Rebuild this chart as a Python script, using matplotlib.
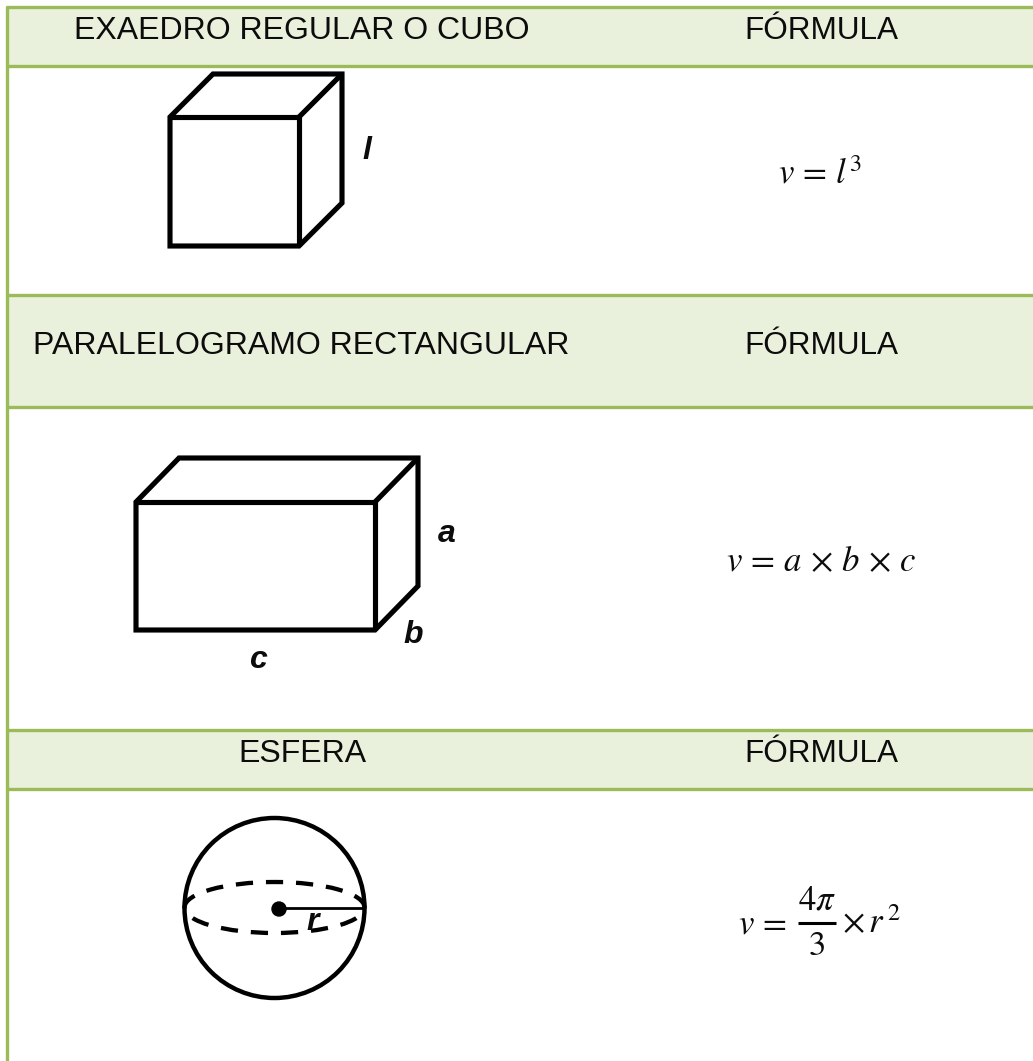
import matplotlib
matplotlib.use("Agg")
from matplotlib import pyplot as plt
from matplotlib.patches import Circle, Ellipse, Polygon, Rectangle

plt.rcParams['font.family'] = ['Liberation Sans', 'DejaVu Sans']
plt.rcParams['mathtext.fontset'] = 'stix'

WIDTH, HEIGHT = 1033, 1061
GREEN = "#9bbb59"
PALE = "#e9f0dc"
INK = "#0c0c0c"

# Header bands (top, bottom) and the lines of the table
header_bands = [(7, 66), (295, 407), (730, 789)]
row_lines = [7, 66, 295, 407, 730, 789]

headers = ["EXAEDRO REGULAR O CUBO", "PARALELOGRAMO RECTANGULAR", "ESFERA"]
header_x = [302, 301.5, 302]
header_baseline = [39, 354, 762]
formula_label = "FÓRMULA"
formula_label_x = 821.5

# One-line formulas
formulas = [r"$v\,=\,l^3$", r"$v\,=\,a\,\times\,b\,\times\,c$"]
formula_x = [820, 821]
formula_baseline = [183, 571]

# Box drawings: front face (x, y, w, h) and offset of the back face
cube_front = (170, 117, 129, 129)
cube_depth = (43, -43)
cuboid_front = (136, 502, 239, 128)
cuboid_depth = (43, -44)

# Edge labels
edge_labels = ["l", "a", "b", "c", "r"]
edge_x = [367, 447, 413, 258, 313]
edge_baseline = [159, 542, 643, 668, 930]

# Sphere
sphere_center = (274.5, 908)
sphere_radius = 90
equator_size = (180, 51)
dot_center = (279, 909)


def draw_box(ax, front, depth):
    x, y, w, h = front
    dx, dy = depth
    outline = [(x, y), (x + dx, y + dy), (x + w + dx, y + dy),
               (x + w + dx, y + h + dy), (x + w, y + h), (x, y + h)]
    ax.add_patch(Polygon(outline, closed=True, fill=False, ec="black", lw=3.7,
                         joinstyle="miter"))
    ax.plot([x, x + w, x + w], [y, y, y + h], color="black", lw=3.7,
            solid_joinstyle="miter", solid_capstyle="butt")
    ax.plot([x + w, x + w + dx], [y, y + dy], color="black", lw=3.7,
            solid_capstyle="butt")


fig = plt.figure(figsize=(WIDTH / 100, HEIGHT / 100), dpi=100)
ax = fig.add_axes([0, 0, 1, 1])
ax.set_xlim(0, WIDTH)
ax.set_ylim(HEIGHT, 0)
ax.axis("off")

# ----------------------------------------
# Table bands and lines
# ----------------------------------------
for top, bottom in header_bands:
    ax.add_patch(Rectangle((6, top), WIDTH - 6, bottom - top, color=PALE, lw=0))
for y in row_lines:
    ax.plot([6, WIDTH], [y, y], color=GREEN, lw=2.4, solid_capstyle="butt")
ax.plot([6.5, 6.5], [6, HEIGHT], color=GREEN, lw=2.4, solid_capstyle="butt")

# ----------------------------------------
# Header text and formulas
# ----------------------------------------
for text, x, y in zip(headers, header_x, header_baseline):
    ax.text(x, y, text, fontsize=23, ha="center", va="baseline", color=INK)
    ax.text(formula_label_x, y, formula_label, fontsize=22.7, ha="center",
            va="baseline", color=INK)

for text, x, y in zip(formulas, formula_x, formula_baseline):
    ax.text(x, y, text, fontsize=25, ha="center", va="baseline", color=INK)

# The sphere formula is set in pieces to keep the heavy fraction bar
ax.text(738, 933, r"$v\,=$", fontsize=25, ha="left", va="baseline", color=INK)
ax.text(816.5, 909, r"$4\pi$", fontsize=25, ha="center", va="baseline", color=INK)
ax.plot([798, 836], [923, 923], color="black", lw=2.2, solid_capstyle="butt")
ax.text(816.5, 955, r"$3$", fontsize=25, ha="center", va="baseline", color=INK)
ax.text(842, 933, r"$\times\,r^{\,2}$", fontsize=25, ha="left", va="baseline",
        color=INK)

# ----------------------------------------
# Shapes
# ----------------------------------------
draw_box(ax, cube_front, cube_depth)
draw_box(ax, cuboid_front, cuboid_depth)

ax.add_patch(Circle(sphere_center, sphere_radius, fill=False, ec="black", lw=3.2))
ax.add_patch(Ellipse((sphere_center[0], 907.5), equator_size[0], equator_size[1],
                     fill=False, ec="black", lw=3.1, ls=(2, (4, 3))))
ax.add_patch(Circle(dot_center, 7, color="black"))
ax.plot([dot_center[0], sphere_center[0] + sphere_radius],
        [908, 908], color="black", lw=2, solid_capstyle="butt")

for text, x, y in zip(edge_labels, edge_x, edge_baseline):
    ax.text(x, y, text, fontsize=23, style="italic", weight="bold",
            ha="center", va="baseline", color=INK)

plt.savefig("out.png", dpi=100)
